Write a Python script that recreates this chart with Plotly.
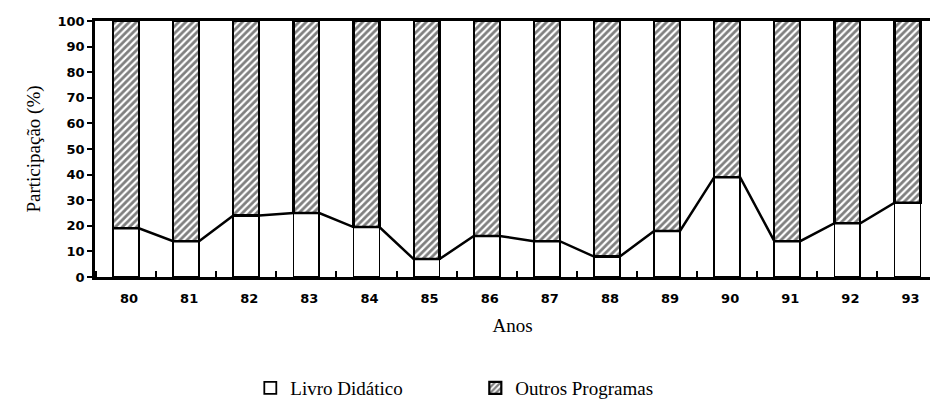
import plotly.graph_objects as go

anos = ["80", "81", "82", "83", "84", "85", "86", "87", "88", "89", "90", "91", "92", "93"]
livro_didatico = [19, 14, 24, 25, 19.5, 7, 16, 14, 8, 18, 39, 14, 21, 29]
outros_programas = [100 - v for v in livro_didatico]

pos = list(range(len(anos)))
bar_w = 0.43

# line following bar tops (left edge -> right edge of each bar)
lx, ly = [], []
for p, v in zip(pos, livro_didatico):
    lx += [p - bar_w / 2, p + bar_w / 2]
    ly += [v, v]

fig = go.Figure()
fig.add_trace(go.Bar(
    x=pos, y=livro_didatico, width=bar_w, name="Livro Didático",
    marker=dict(color="white", line=dict(color="black", width=1.8)),
))
fig.add_trace(go.Bar(
    x=pos, y=outros_programas, width=bar_w, name="Outros Programas",
    marker=dict(color="white", line=dict(color="black", width=2.2),
                pattern=dict(shape="/", fgcolor="black", bgcolor="white", size=5, solidity=0.55)),
))
fig.add_trace(go.Scatter(
    x=lx, y=ly, mode="lines", line=dict(color="black", width=2.5),
    showlegend=False, hoverinfo="skip",
))

tick_font = dict(family="DejaVu Sans", size=13, color="black", weight="bold")
title_font = dict(family="Liberation Serif", size=19, color="black")
fig.update_layout(
    barmode="stack",
    width=930, height=407,
    margin=dict(l=95, r=0, t=21, b=128),
    plot_bgcolor="white", paper_bgcolor="white",
    legend=dict(orientation="h", x=0.186, xanchor="left", y=-0.434, yanchor="middle",
                font=dict(family="Liberation Serif", size=19, color="black"),
                itemwidth=30, entrywidth=180, traceorder="normal"),
    xaxis=dict(
        range=[-0.516, 13.374], tickvals=pos, ticktext=anos, ticks="",
        ticklabelstandoff=8, ticklabelshift=3,
        showline=True, linecolor="black", linewidth=2.5, mirror=True,
        showgrid=False, zeroline=False, tickfont=tick_font, automargin=False,
        minor=dict(tick0=0.5, dtick=1, ticks="inside", ticklen=6, tickcolor="black", tickwidth=2),
        title=dict(text="Anos", font=title_font, standoff=14),
    ),
    yaxis=dict(
        range=[0, 100], dtick=10, ticks="outside", ticklen=5, tickwidth=2, tickcolor="black",
        showline=True, linecolor="black", linewidth=2.5,
        showgrid=False, zeroline=False, tickfont=tick_font, automargin=False,
        title=dict(text="Participação (%)", font=title_font, standoff=12),
    ),
)

fig.write_html("out.html", config={"displayModeBar": False},
               post_script="document.body.style.margin='0px';")
